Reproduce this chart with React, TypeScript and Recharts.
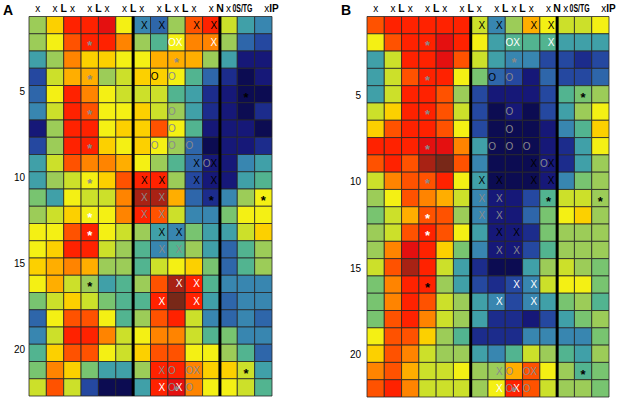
import { ScatterChart, Scatter, XAxis, YAxis, ReferenceArea, ReferenceLine } from "recharts";

const FONT = "'Liberation Sans', Arial, Helvetica, sans-serif";

// colour levels, low (dark navy) to high (dark red)
const colorLevels = [
  "#0c0c52", "#161878", "#1c2c8c", "#2548a0", "#2e66aa",
  "#3886b0", "#40a0a8", "#52b490", "#78c470", "#9ccc58",
  "#cce02a", "#f4f014", "#fcd000", "#ffae00", "#ff8400",
  "#ff5200", "#ff2200", "#e41010", "#a82214", "#782818",
];

const headerTicks = [0.5, 1.5, 2, 2.5, 3.5, 4, 4.5, 5.5, 6, 6.5, 7.5, 8, 8.5, 9, 9.5, 10.5, 11, 11.5, 12.3, 13.5];
const headerLabels = ["x", "x", "L", "x", "x", "L", "x", "x", "L", "x", "x", "L", "x", "L", "x", "x", "N", "x", "0S/TG", "xIP"];

const rowTicks = [4.5, 9.5, 14.5, 19.5];
const rowLabels = ["5", "10", "15", "20"];

const separators = [6, 11];

const panelA = [
  [9, 12, 16, 16, 17, 11, 5, 4, 9, 15, 16, 10, 6, 5],
  [9, 11, 15, 16, 16, 14, 9, 7, 11, 14, 14, 9, 4, 3],
  [6, 9, 14, 12, 12, 11, 11, 13, 13, 13, 9, 6, 1, 1],
  [3, 10, 13, 13, 9, 10, 12, 12, 11, 7, 4, 2, 0, 1],
  [4, 11, 16, 14, 11, 10, 10, 10, 7, 6, 2, 1, 0, 0],
  [5, 10, 16, 15, 11, 11, 12, 10, 9, 6, 2, 1, 0, 2],
  [1, 9, 16, 16, 11, 12, 12, 15, 11, 7, 1, 1, 1, 0],
  [3, 9, 16, 16, 12, 11, 12, 11, 9, 4, 0, 1, 1, 2],
  [6, 10, 15, 14, 14, 13, 11, 9, 7, 4, 1, 1, 5, 6],
  [6, 9, 10, 11, 12, 15, 16, 16, 9, 3, 1, 1, 6, 7],
  [8, 6, 11, 10, 10, 14, 18, 18, 13, 4, 2, 5, 9, 11],
  [9, 10, 12, 11, 11, 14, 16, 15, 10, 5, 5, 8, 11, 11],
  [11, 11, 15, 16, 11, 10, 9, 6, 5, 8, 6, 6, 10, 12],
  [11, 12, 16, 16, 10, 9, 7, 5, 7, 9, 6, 4, 7, 9],
  [12, 13, 14, 13, 9, 9, 7, 10, 11, 12, 8, 4, 7, 9],
  [11, 13, 10, 9, 6, 7, 9, 15, 18, 16, 7, 5, 5, 5],
  [8, 10, 12, 10, 8, 7, 7, 16, 19, 16, 6, 4, 5, 5],
  [4, 11, 15, 15, 11, 7, 9, 15, 16, 10, 5, 4, 5, 4],
  [5, 10, 16, 16, 14, 10, 11, 14, 14, 10, 7, 8, 5, 5],
  [7, 12, 15, 15, 11, 10, 12, 15, 15, 11, 11, 9, 7, 4],
  [8, 14, 12, 8, 6, 6, 9, 16, 16, 14, 12, 12, 10, 6],
  [10, 15, 10, 3, 0, 0, 6, 16, 17, 14, 11, 11, 10, 7],
];

const panelB = [
  [15, 16, 16, 16, 16, 16, 10, 5, 9, 13, 11, 10, 10, 11],
  [11, 15, 16, 16, 17, 16, 11, 6, 7, 7, 7, 6, 6, 6],
  [6, 10, 16, 16, 17, 15, 10, 6, 5, 5, 3, 3, 2, 3],
  [6, 10, 15, 16, 16, 11, 8, 4, 3, 1, 4, 3, 3, 4],
  [6, 10, 16, 16, 15, 9, 3, 1, 1, 1, 3, 7, 8, 9],
  [10, 12, 16, 16, 15, 10, 3, 0, 1, 0, 3, 6, 9, 11],
  [12, 15, 16, 16, 15, 11, 3, 0, 0, 0, 1, 5, 7, 12],
  [16, 16, 16, 17, 17, 14, 6, 0, 0, 0, 1, 2, 6, 11],
  [15, 16, 15, 18, 19, 15, 5, 0, 0, 0, 1, 2, 6, 9],
  [10, 14, 15, 15, 16, 11, 6, 0, 0, 0, 1, 5, 8, 9],
  [9, 11, 15, 14, 13, 10, 5, 1, 1, 3, 7, 10, 10, 9],
  [8, 10, 13, 15, 15, 9, 5, 1, 1, 4, 8, 11, 12, 9],
  [9, 10, 15, 16, 15, 11, 6, 1, 1, 2, 8, 9, 9, 9],
  [9, 14, 17, 16, 12, 8, 5, 1, 1, 3, 7, 9, 9, 9],
  [10, 15, 18, 16, 10, 6, 2, 0, 0, 6, 9, 10, 9, 8],
  [8, 14, 16, 16, 9, 6, 3, 2, 3, 5, 10, 11, 11, 8],
  [8, 14, 16, 15, 10, 9, 6, 5, 3, 5, 6, 8, 9, 7],
  [8, 15, 16, 14, 10, 9, 6, 2, 2, 1, 3, 6, 8, 9],
  [11, 15, 15, 12, 9, 7, 2, 2, 2, 5, 5, 5, 5, 8],
  [12, 15, 14, 10, 9, 9, 6, 5, 7, 10, 9, 7, 6, 9],
  [14, 15, 13, 10, 10, 11, 9, 9, 13, 15, 11, 9, 7, 8],
  [15, 16, 14, 10, 10, 10, 9, 11, 16, 15, 10, 9, 9, 8],
];

// [row, column, symbol, tone] - same in both panels
const markers: [number, number, string, string][] = [
  [1, 7, "X", "k"], [1, 8, "X", "k"], [1, 10, "X", "k"], [1, 11, "X", "k"],
  [2, 4, "*", "g"], [2, 9, "O", "w"], [2, 9, "X", "w"], [2, 11, "X", "w"],
  [3, 9, "*", "g"],
  [4, 4, "*", "g"], [4, 8, "O", "k"], [4, 9, "O", "g"],
  [5, 13, "*", "k"],
  [6, 4, "*", "g"], [6, 9, "O", "g"],
  [7, 9, "O", "g"],
  [8, 4, "*", "g"], [8, 8, "O", "g"], [8, 9, "O", "g"], [8, 10, "O", "g"],
  [9, 10, "X", "k"], [9, 11, "O", "g"], [9, 11, "X", "k"],
  [10, 4, "*", "g"], [10, 7, "X", "k"], [10, 8, "X", "k"], [10, 10, "X", "k"], [10, 11, "X", "k"],
  [11, 7, "X", "g"], [11, 8, "X", "g"], [11, 11, "*", "k"], [11, 14, "*", "k"],
  [12, 4, "*", "w"], [12, 7, "X", "g"], [12, 8, "X", "g"],
  [13, 4, "*", "w"], [13, 8, "X", "k"], [13, 9, "X", "k"],
  [14, 8, "X", "g"], [14, 9, "X", "g"],
  [16, 4, "*", "k"], [16, 9, "X", "w"], [16, 10, "X", "w"],
  [17, 8, "X", "w"], [17, 10, "X", "w"],
  [21, 8, "X", "g"], [21, 9, "O", "g"], [21, 10, "O", "g"], [21, 10, "X", "g"], [21, 13, "*", "k"],
  [22, 8, "X", "w"], [22, 9, "O", "g"], [22, 9, "X", "w"], [22, 9, "*", "g"], [22, 10, "O", "g"],
];

const toneColors: Record<string, string> = { k: "#000000", w: "#ffffff", g: "#8a8a8a" };

const markerPoints = markers.map(([row, col, sym, tone]) => ({ x: col - 0.5, y: row - 0.5, sym, tone }));

function levelColor(v: number) {
  return colorLevels[Math.max(0, Math.min(colorLevels.length - 1, Math.round(v)))];
}

function HeaderTick(props: any) {
  const { x, y, index } = props;
  const t = headerLabels[index];
  if (t === "L" || t === "N") {
    return (
      <text x={x} y={y} textAnchor="middle" fontSize={10.5} fontWeight="bold" fill="#000" fontFamily={FONT}>
        {t}
      </text>
    );
  }
  if (t === "0S/TG") {
    return (
      <text x={x} y={y} textAnchor="middle" fontSize={10} fontWeight="bold" fill="#000" fontFamily={FONT}
        textLength={20} lengthAdjust="spacingAndGlyphs">
        {t}
      </text>
    );
  }
  if (t === "xIP") {
    return (
      <text x={x + 1} y={y} textAnchor="start" fontSize={10} fill="#000" fontFamily={FONT}>
        <tspan>x</tspan>
        <tspan fontWeight="bold">IP</tspan>
      </text>
    );
  }
  return (
    <text x={x} y={y} textAnchor="middle" fontSize={10} fill="#000" fontFamily={FONT}>
      {t}
    </text>
  );
}

function MarkerShape(props: any) {
  const { cx, cy, payload } = props;
  if (cx == null || cy == null) return null;
  const fill = toneColors[payload.tone];
  if (payload.sym === "*") {
    return (
      <text x={cx} y={cy + 7.5} textAnchor="middle" fontSize={13} fontWeight="bold" fill={fill} fontFamily={FONT}>
        *
      </text>
    );
  }
  const dx = payload.sym === "O" ? -4.6 : 2.6;
  return (
    <text x={cx + dx} y={cy + 3.6} textAnchor="middle" fontSize={10} fill={fill} fontFamily={FONT}>
      {payload.sym}
    </text>
  );
}

function Panel({ grid, width, axisWidth, margin, tickGap, labelShift }: any) {
  const cells = grid.flatMap((row: number[], r: number) => row.map((v, c) => ({ r, c, v })));
  return (
    <ScatterChart width={width} height={401} margin={margin}>
      <XAxis
        dataKey="x"
        type="number"
        domain={[0, 14]}
        orientation="top"
        ticks={headerTicks}
        interval={0}
        height={16.5}
        tickSize={0}
        tickMargin={5}
        tickLine={false}
        axisLine={false}
        allowDataOverflow
        tick={(p: any) => <HeaderTick {...p} />}
      />
      <YAxis
        dataKey="y"
        type="number"
        domain={[0, 22]}
        reversed
        ticks={rowTicks}
        interval={0}
        width={axisWidth}
        tickSize={0}
        tickMargin={tickGap}
        tickLine={false}
        axisLine={false}
        allowDataOverflow
        tick={(p: any) => (
          <text x={p.x} y={p.y + 3.6 + labelShift} textAnchor="end" fontSize={10} fill="#000" fontFamily={FONT}>
            {rowLabels[p.index]}
          </text>
        )}
      />
      {cells.map((cell: any) => (
        <ReferenceArea
          key={`${cell.r}-${cell.c}`}
          x1={cell.c}
          x2={cell.c + 1}
          y1={cell.r}
          y2={cell.r + 1}
          fill={levelColor(cell.v)}
          fillOpacity={1}
          stroke="#262626"
          strokeWidth={0.8}
          ifOverflow="visible"
        />
      ))}
      {separators.map((s) => (
        <ReferenceLine key={s} x={s} stroke="#000" strokeWidth={3} ifOverflow="visible" />
      ))}
      <Scatter data={markerPoints} shape={(p: any) => <MarkerShape {...p} />} isAnimationActive={false} />
    </ScatterChart>
  );
}

export default function App() {
  return (
    <div style={{ position: "absolute", left: 0, top: 0, width: 619, height: 401, background: "#fff" }}>
      <div style={{ position: "absolute", left: 0, top: 0 }}>
        <Panel grid={panelA} width={310} axisWidth={29} margin={{ top: 0, right: 38, bottom: 5, left: 0 }} tickGap={4} labelShift={-3} />
      </div>
      <div style={{ position: "absolute", left: 310, top: 0 }}>
        <Panel grid={panelB} width={309} axisWidth={57} margin={{ top: 0, right: 10, bottom: 4, left: 0 }} tickGap={6} labelShift={1} />
      </div>
      <svg width={619} height={20} style={{ position: "absolute", left: 0, top: 0, pointerEvents: "none" }}>
        <text x={3} y={14.5} fontSize={14} fontWeight="bold" fontFamily={FONT}>A</text>
        <text x={341} y={14.5} fontSize={14} fontWeight="bold" fontFamily={FONT}>B</text>
      </svg>
    </div>
  );
}
